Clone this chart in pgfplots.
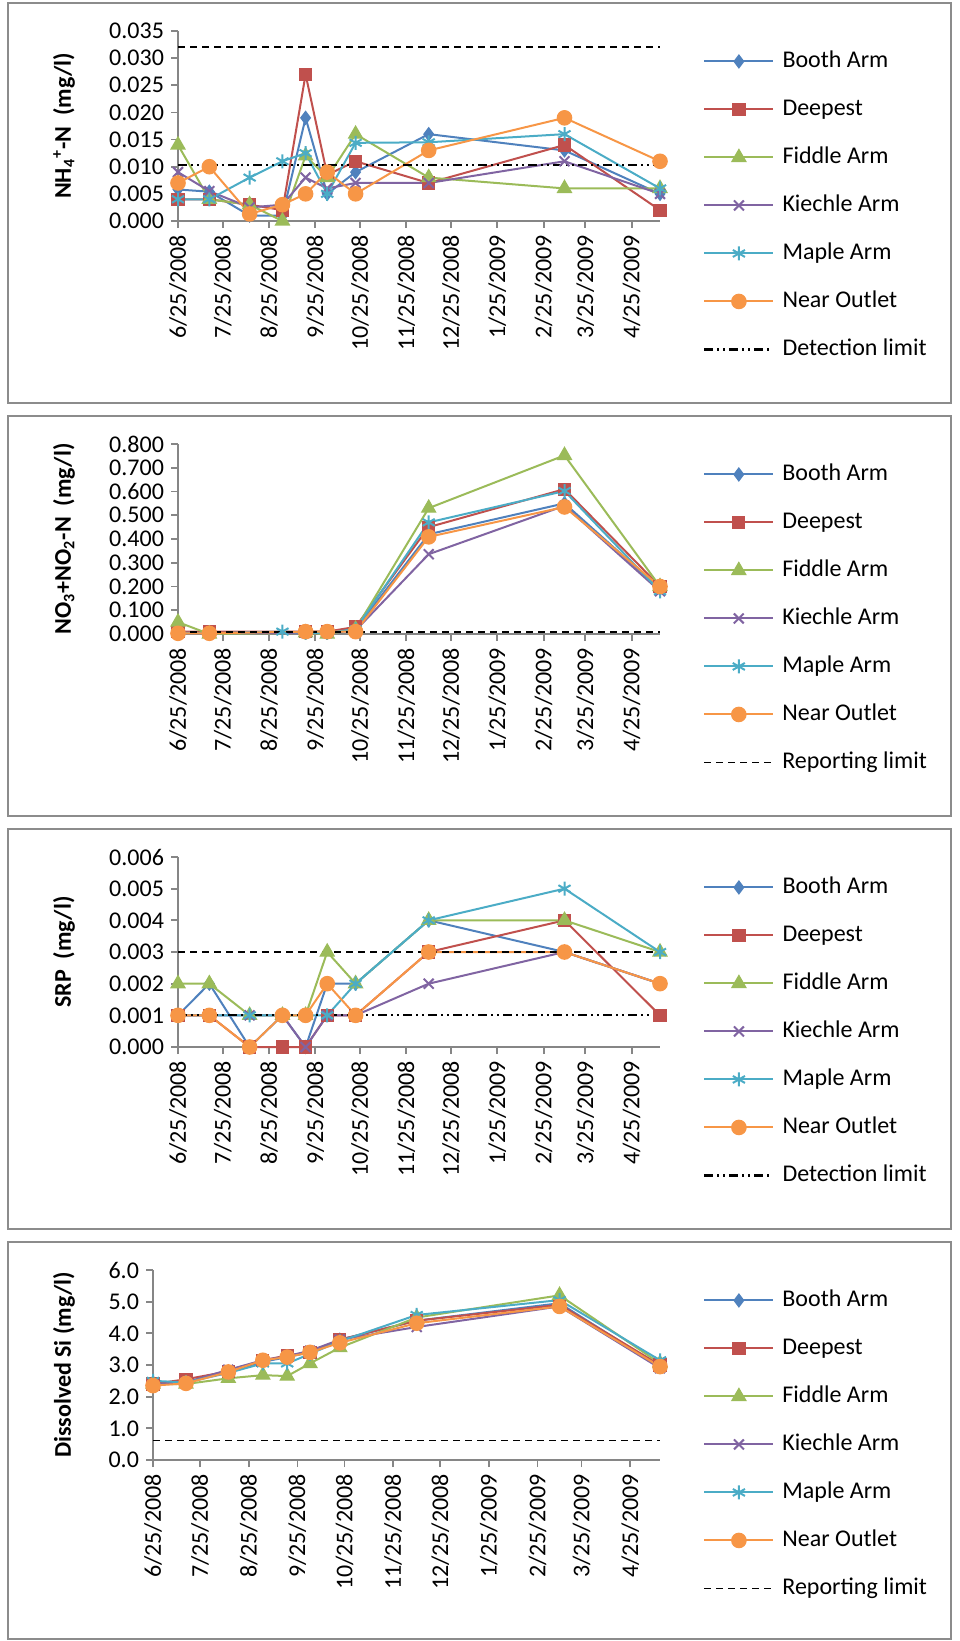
\documentclass[border=0pt]{standalone}
\usepackage{fontspec}
\setmainfont{Carlito}
\usepackage{pgfplots}
\usepackage{pgfplotstable}
\pgfplotsset{compat=1.18}
\definecolor{cBooth}{HTML}{4F81BD}
\definecolor{cDeep}{HTML}{C0504D}
\definecolor{cFiddle}{HTML}{9BBB59}
\definecolor{cKiech}{HTML}{8064A2}
\definecolor{cMaple}{HTML}{4BACC6}
\definecolor{cNear}{HTML}{F79646}
\definecolor{axgray}{HTML}{868686}
\definecolor{bordergray}{HTML}{8C8C8C}
\newcommand\fs{\fontsize{12}{14.4}\selectfont}

\pgfplotstableread{
d booth deep fiddle kiech maple near
0 0.0058 0.004 0.014 0.009 0.004 0.007
21 0.0054 0.004 0.004 0.0055 0.004 0.010
48 0.001 0.003 0.003 0.0025 0.008 0.0013
70 0.001 0.002 0.000 0.003 0.011 0.003
85.5 0.019 0.027 0.012 0.008 0.0125 0.005
100 0.005 0.0085 0.008 0.006 0.005 0.009
119 0.009 0.011 0.016 0.007 0.0144 0.005
168 0.016 0.007 0.008 0.007 0.0145 0.013
259 0.013 0.014 0.006 0.011 0.016 0.019
323 0.005 0.002 0.006 0.005 0.006 0.011
}\tabNH

\pgfplotstableread{
d booth deep fiddle kiech maple near
0 0.005 0.010 0.050 0.005 0.005 0.003
21 0.003 0.010 0.000 0.003 0.003 0.003
70 nan nan nan nan 0.010 nan
85.5 0.010 0.010 0.005 0.005 0.005 0.010
100 0.010 0.010 0.000 0.005 0.005 0.010
119 0.020 0.030 0.020 0.015 0.020 0.010
168 0.420 0.450 0.530 0.336 0.470 0.409
259 0.550 0.610 0.752 0.540 0.602 0.535
323 0.190 0.200 0.200 0.180 0.180 0.200
}\tabNO

\pgfplotstableread{
d booth deep fiddle kiech maple near
0 0.001 0.001 0.002 0.001 0.001 0.001
21 0.002 0.001 0.002 0.001 0.001 0.001
48 0.000 0.000 0.001 0.001 0.001 0.000
70 0.001 0.000 0.001 0.001 0.001 0.001
85.5 0.000 0.000 0.001 0.000 0.001 0.001
100 0.002 0.001 0.003 0.001 0.001 0.002
119 0.002 0.001 0.002 0.001 0.002 0.001
168 0.004 0.003 0.004 0.002 0.004 0.003
259 0.003 0.004 0.004 0.003 0.005 0.003
323 0.002 0.001 0.003 0.002 0.003 0.002
}\tabSRP

\pgfplotstableread{
d booth deep fiddle kiech maple near
0 2.45 2.40 2.40 2.40 2.50 2.35
21 2.45 2.55 2.40 2.45 2.45 2.42
48 2.80 2.80 2.58 2.85 2.75 2.78
70 3.10 3.15 2.68 3.15 3.05 3.15
85.5 3.25 3.30 2.65 3.28 3.05 3.25
100 3.40 3.40 3.05 3.45 3.35 3.40
119 3.80 3.80 3.55 3.80 3.75 3.70
168 4.40 4.40 4.50 4.20 4.58 4.32
259 4.95 4.90 5.20 4.85 5.05 4.85
323 2.95 3.00 3.05 2.90 3.15 2.95
}\tabSi

\pgfplotsset{
  ser/.style={line width=1pt, every mark/.append style={solid, line width=0.6pt}},
  booth/.style={ser, color=cBooth, mark=diamond*, mark size=3.2pt},
  deep/.style={ser, color=cDeep, mark=square*, mark size=3pt},
  fiddle/.style={ser, color=cFiddle, mark=triangle*, mark size=4pt},
  kiech/.style={ser, color=cKiech, mark=x, mark size=3.5pt, every mark/.append style={line width=1pt}},
  maple/.style={ser, color=cMaple, mark=asterisk, mark size=3.5pt, every mark/.append style={line width=1pt}},
  near/.style={ser, color=cNear, mark=*, mark size=3.6pt},
  detlim/.style={black, line width=1.1pt, dash pattern=on 4.5pt off 2pt on 1pt off 2pt on 1pt off 2pt},
  replim/.style={black, line width=0.8pt, dash pattern=on 3.5pt off 2.5pt},
  panel/.style={
    scale only axis, width=241pt, height=95pt,
    axis x line*=bottom, axis y line*=left,
    axis line style={axgray, line width=0.9pt},
    tick style={axgray, line width=0.9pt},
    tick align=outside, major tick length=3.5pt,
    xmin=0, xmax=323, clip=false,
    xtick={0,30,61,92,122,153,183,214,245,273,304},
    xticklabels={6/25/2008,7/25/2008,8/25/2008,9/25/2008,10/25/2008,11/25/2008,12/25/2008,1/25/2009,2/25/2009,3/25/2009,4/25/2009},
    x tick label style={rotate=90, anchor=east},
    tick label style={font=\fs},
    scaled y ticks=false,
    /pgf/number format/assume math mode=true,
    yticklabel style={/pgf/number format/.cd, fixed, fixed zerofill, precision=3},
    ylabel style={font=\bfseries\fs, anchor=center},
    legend cell align=left,
    legend image code/.code={\draw[mark repeat=2,mark phase=2,##1] plot coordinates {(0pt,0pt) (17.25pt,0pt) (34.5pt,0pt)};},
  },
  leg/.style={legend style={at={(axis description cs:#1,0.905)}, anchor=north west, draw=none, fill=none, inner sep=0pt, font=\fs, nodes={inner sep=0pt, text height=9pt, text depth=3pt}, row sep=12pt, /tikz/every odd column/.append style={column sep=4pt}}},
}

\begin{document}
\begin{tikzpicture}
\useasboundingbox (0,0) rectangle (479.5pt,-820.5pt);
\draw[bordergray, line width=1pt] (4pt,-1.5pt) rectangle (475.5pt,-201.5pt);
\draw[bordergray, line width=1pt] (4pt,-208pt) rectangle (475.5pt,-408pt);
\draw[bordergray, line width=1pt] (4pt,-414.5pt) rectangle (475.5pt,-614.5pt);
\draw[bordergray, line width=1pt] (4pt,-621pt) rectangle (475.5pt,-819.5pt);

% Panel 1
\begin{axis}[panel, leg=1.089, at={(89pt,-110.5pt)}, anchor=south west,
  ymin=0, ymax=0.035, ytick={0,0.005,...,0.0351},
  ylabel={NH\textsubscript{4}\textsuperscript{+}-N~~(mg/l)},
  ylabel style={at={(axis description cs:-0.2365,0.5)}}]
\addplot[booth] table[x=d,y=booth]{\tabNH};
\addplot[deep] table[x=d,y=deep]{\tabNH};
\addplot[fiddle] table[x=d,y=fiddle]{\tabNH};
\addplot[kiech] table[x=d,y=kiech]{\tabNH};
\addplot[maple] table[x=d,y=maple]{\tabNH};
\addplot[near] table[x=d,y=near]{\tabNH};
\addplot[detlim] coordinates {(0,0.0103) (323,0.0103)};
\addplot[replim, forget plot] coordinates {(0,0.0321) (323,0.0321)};
\legend{Booth Arm,Deepest,Fiddle Arm,Kiechle Arm,Maple Arm,Near Outlet,Detection limit}
\end{axis}

% Panel 2
\begin{axis}[panel, leg=1.089, at={(89pt,-317pt)}, anchor=south west,
  ymin=0, ymax=0.8, ytick={0,0.1,...,0.81},
  ylabel={NO\textsubscript{3}+NO\textsubscript{2}-N~~(mg/l)},
  ylabel style={at={(axis description cs:-0.2365,0.5)}}]
\addplot[booth] table[x=d,y=booth]{\tabNO};
\addplot[deep] table[x=d,y=deep]{\tabNO};
\addplot[fiddle] table[x=d,y=fiddle]{\tabNO};
\addplot[kiech] table[x=d,y=kiech]{\tabNO};
\addplot[maple] table[x=d,y=maple]{\tabNO};
\addplot[near] table[x=d,y=near]{\tabNO};
\addplot[replim] coordinates {(0,0.008) (323,0.008)};
\legend{Booth Arm,Deepest,Fiddle Arm,Kiechle Arm,Maple Arm,Near Outlet,Reporting limit}
\end{axis}

% Panel 3
\begin{axis}[panel, leg=1.089, at={(89pt,-523.5pt)}, anchor=south west,
  ymin=0, ymax=0.006, ytick={0,0.001,...,0.00601},
  ylabel={SRP~~(mg/l)},
  ylabel style={at={(axis description cs:-0.2365,0.5)}}]
\addplot[booth] table[x=d,y=booth]{\tabSRP};
\addplot[deep] table[x=d,y=deep]{\tabSRP};
\addplot[fiddle] table[x=d,y=fiddle]{\tabSRP};
\addplot[kiech] table[x=d,y=kiech]{\tabSRP};
\addplot[maple] table[x=d,y=maple]{\tabSRP};
\addplot[near] table[x=d,y=near]{\tabSRP};
\addplot[detlim] coordinates {(0,0.001) (323,0.001)};
\addplot[replim, forget plot] coordinates {(0,0.003) (323,0.003)};
\legend{Booth Arm,Deepest,Fiddle Arm,Kiechle Arm,Maple Arm,Near Outlet,Detection limit}
\end{axis}

% Panel 4
\begin{axis}[panel, leg=1.0848, at={(76.5pt,-730pt)}, anchor=south west, width=253.5pt,
  ymin=0, ymax=6, ytick={0,1,...,6},
  yticklabel style={/pgf/number format/.cd, fixed, fixed zerofill, precision=1},
  ylabel={Dissolved Si (mg/l)},
  ylabel style={at={(axis description cs:-0.1755,0.5)}}]
\addplot[booth] table[x=d,y=booth]{\tabSi};
\addplot[deep] table[x=d,y=deep]{\tabSi};
\addplot[fiddle] table[x=d,y=fiddle]{\tabSi};
\addplot[kiech] table[x=d,y=kiech]{\tabSi};
\addplot[maple] table[x=d,y=maple]{\tabSi};
\addplot[near] table[x=d,y=near]{\tabSi};
\addplot[replim] coordinates {(0,0.62) (323,0.62)};
\legend{Booth Arm,Deepest,Fiddle Arm,Kiechle Arm,Maple Arm,Near Outlet,Reporting limit}
\end{axis}
\end{tikzpicture}
\end{document}
